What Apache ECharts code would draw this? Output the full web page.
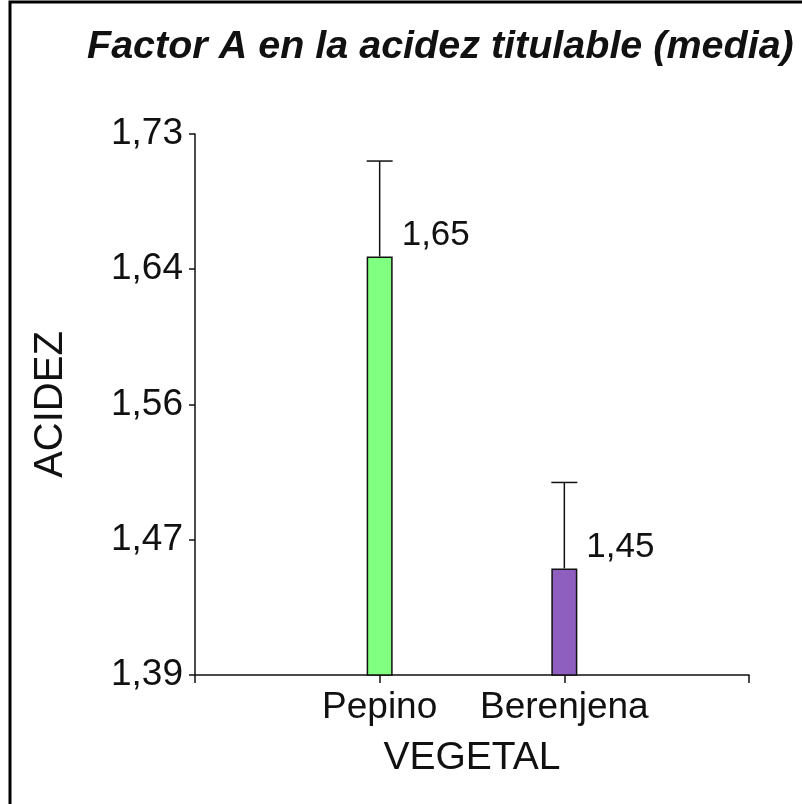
<!DOCTYPE html>
<html>
<head>
<meta charset="utf-8">
<script src="https://cdn.jsdelivr.net/npm/echarts@6/dist/echarts.min.js"></script>
<style>
  html, body { margin: 0; padding: 0; background: #fff; }
  #chart { width: 802px; height: 804px; }
</style>
</head>
<body>
<div id="chart"></div>
<script>
const categories = ["Pepino", "Berenjena"];
const means = [1.653, 1.457];
const errorTops = [1.713, 1.511];
const barColors = ["#80ff80", "#8f5fbf"];
const yTickLabels = ["1,39", "1,47", "1,56", "1,64", "1,73"];

const font = "Liberation Sans, Arial, sans-serif";
const ink = "#111";

// value labels are truncated to 2 decimals, with a comma
const fmt = (v) => (Math.floor(v * 100 + 1e-9) / 100).toFixed(2).replace(".", ",");

const chart = echarts.init(document.getElementById("chart"));
chart.setOption({
  backgroundColor: "#fff",
  animation: false,
  title: {
    text: "Factor A en la acidez titulable (media)",
    left: 82,
    top: 22,
    textStyle: { color: ink, fontFamily: font, fontSize: 39.5, fontWeight: "bold", fontStyle: "italic" }
  },
  graphic: [
    {
      type: "rect",
      shape: { x: 10, y: 2, width: 1200, height: 1200 },
      style: { fill: "none", stroke: "#000", lineWidth: 3 },
      silent: true
    }
  ],
  grid: { left: 195, right: 53, top: 134, bottom: 129 },
  xAxis: {
    type: "category",
    data: ["", ...categories, ""],
    boundaryGap: false,
    name: "VEGETAL",
    nameLocation: "middle",
    nameGap: 64,
    nameTextStyle: { color: ink, fontFamily: font, fontSize: 39 },
    axisLine: { lineStyle: { color: ink, width: 1.5 } },
    axisTick: { length: 8, interval: 0, lineStyle: { color: ink, width: 1.5 } },
    axisLabel: { color: ink, fontFamily: font, fontSize: 37, margin: 14, interval: 0 },
    splitLine: { show: false }
  },
  yAxis: {
    type: "value",
    min: 1.39,
    max: 1.73,
    interval: 0.085,
    name: "ACIDEZ",
    nameLocation: "middle",
    nameGap: 124,
    nameTextStyle: { color: ink, fontFamily: font, fontSize: 40 },
    axisLine: { show: true, lineStyle: { color: ink, width: 1.5 } },
    axisTick: { show: true, length: 6, lineStyle: { color: ink, width: 1.5 } },
    axisLabel: { color: ink, fontFamily: font, fontSize: 37, margin: 12, formatter: (v, i) => yTickLabels[i] },
    splitLine: { show: false }
  },
  series: [
    {
      type: "bar",
      barWidth: 26,
      data: means.map((v, i) => ({
        value: [i + 1, v],
        itemStyle: { color: barColors[i], borderColor: ink, borderWidth: 1.5 }
      }))
    },
    {
      type: "custom",
      data: means.map((v, i) => [i + 1, v, errorTops[i]]),
      z: 3,
      renderItem(params, api) {
        const x = api.value(0);
        const top = api.coord([x, api.value(1)]);
        const up = api.coord([x, api.value(2)]);
        const half = 13;
        const line = { stroke: ink, lineWidth: 1.5 };
        return {
          type: "group",
          children: [
            { type: "line", shape: { x1: top[0], y1: top[1], x2: up[0], y2: up[1] }, style: line },
            { type: "line", shape: { x1: up[0] - half, y1: up[1], x2: up[0] + half, y2: up[1] }, style: line },
            {
              type: "text",
              x: top[0] + 22,
              y: top[1] - 21,
              style: {
                text: fmt(api.value(1)),
                fill: ink,
                fontFamily: font,
                fontSize: 35,
                align: "left",
                verticalAlign: "middle"
              }
            }
          ]
        };
      }
    }
  ]
});
</script>
</body>
</html>
